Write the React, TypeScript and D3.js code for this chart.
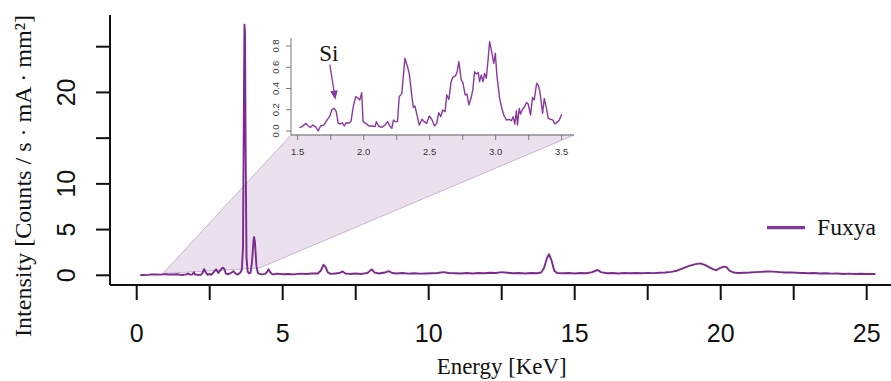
import React from "react";
import * as d3 from "d3";

// ---------- DATA ----------
const mainEnergy = [
  0.12, 0.2, 0.3, 0.4, 0.5, 0.6, 0.7, 0.8, 0.9, 1.0, 1.1, 1.2, 1.3, 1.4, 1.5, 1.6, 1.7, 1.76, 1.82, 1.9,
  1.96, 2.0, 2.1, 2.2, 2.26, 2.31, 2.36, 2.42, 2.5, 2.56, 2.62, 2.72, 2.8, 2.86, 2.95, 3.0, 3.05, 3.12, 3.2, 3.31,
  3.38, 3.45, 3.5, 3.55, 3.6, 3.64, 3.67, 3.69, 3.71, 3.73, 3.76, 3.8, 3.85, 3.9, 3.95, 4.0, 4.02, 4.05, 4.1, 4.15,
  4.2, 4.3, 4.4, 4.47, 4.52, 4.58, 4.65, 4.7, 4.8, 5.0, 5.2, 5.4, 5.6, 5.8, 6.0, 6.2, 6.3, 6.4, 6.47, 6.55,
  6.65, 6.8, 6.95, 7.05, 7.15, 7.3, 7.5, 7.7, 7.9, 8.05, 8.15, 8.3, 8.5, 8.63, 8.75, 8.9, 9.1, 9.3, 9.5, 9.7,
  9.9, 10.1, 10.3, 10.5, 10.7, 10.9, 11.1, 11.3, 11.5, 11.7, 11.9, 12.1, 12.3, 12.5, 12.7, 12.9, 13.1, 13.3, 13.5, 13.7,
  13.85, 13.95, 14.05, 14.12, 14.2, 14.3, 14.4, 14.6, 14.8, 15.0, 15.2, 15.4, 15.6, 15.78, 15.9, 16.1, 16.3, 16.5, 16.7, 16.9,
  17.1, 17.3, 17.5, 17.7, 17.9, 18.1, 18.3, 18.5, 18.7, 18.9, 19.1, 19.3, 19.45, 19.6, 19.75, 19.85, 19.95, 20.1, 20.2, 20.3,
  20.45, 20.6, 20.8, 21.0, 21.2, 21.4, 21.6, 21.8, 22.0, 22.2, 22.4, 22.6, 22.8, 23.0, 23.2, 23.4, 23.6, 23.8, 24.0, 24.2,
  24.4, 24.6, 24.8, 25.0, 25.3,
];
const mainIntensity = [
  0.02, 0.03, 0.02, 0.05, 0.1, 0.08, 0.1, 0.07, 0.1, 0.12, 0.08, 0.1, 0.09, 0.12, 0.05, 0.04, 0.1, 0.2, 0.07, 0.09,
  0.33, 0.08, 0.05, 0.06, 0.3, 0.68, 0.35, 0.06, 0.14, 0.06, 0.3, 0.65, 0.26, 0.55, 0.84, 0.72, 0.2, 0.1, 0.2, 0.45,
  0.2, 0.08, 0.15, 0.3, 0.6, 3.0, 18.0, 27.4, 26.5, 14.0, 2.0, 0.4, 0.2, 0.3, 1.5, 3.8, 4.2, 3.6, 1.0, 0.25,
  0.15, 0.1, 0.15, 0.4, 0.65, 0.3, 0.1, 0.12, 0.18, 0.12, 0.15, 0.1, 0.18, 0.14, 0.2, 0.2, 0.5, 1.15, 0.9, 0.3,
  0.15, 0.2, 0.25, 0.42, 0.2, 0.15, 0.2, 0.15, 0.25, 0.65, 0.3, 0.2, 0.3, 0.45, 0.25, 0.2, 0.25, 0.18, 0.22, 0.18,
  0.2, 0.22, 0.25, 0.35, 0.25, 0.22, 0.2, 0.25, 0.2, 0.25, 0.22, 0.28, 0.25, 0.35, 0.28, 0.22, 0.25, 0.2, 0.25, 0.22,
  0.3, 0.8, 1.9, 2.3, 1.7, 0.5, 0.25, 0.22, 0.25, 0.2, 0.25, 0.22, 0.35, 0.58, 0.35, 0.22, 0.25, 0.2, 0.25, 0.22,
  0.25, 0.22, 0.26, 0.24, 0.28, 0.3, 0.38, 0.5, 0.75, 1.0, 1.2, 1.3, 1.15, 0.9, 0.65, 0.55, 0.75, 0.95, 0.9, 0.5,
  0.3, 0.25, 0.28, 0.3, 0.35, 0.38, 0.42, 0.4, 0.35, 0.3, 0.32, 0.28, 0.25, 0.22, 0.25, 0.2, 0.22, 0.18, 0.2, 0.15,
  0.18, 0.15, 0.17, 0.14, 0.15,
];

const insetEnergy = [
  1.513, 1.533, 1.563, 1.579, 1.596, 1.614, 1.635, 1.655, 1.673, 1.698, 1.723, 1.741, 1.761, 1.777, 1.792, 1.807,
  1.825, 1.838, 1.853, 1.868, 1.888, 1.904, 1.921, 1.939, 1.959, 1.97, 1.985, 1.995, 2.015, 2.041, 2.066, 2.086,
  2.096, 2.112, 2.137, 2.162, 2.18, 2.198, 2.213, 2.226, 2.239, 2.256, 2.269, 2.289, 2.312, 2.332, 2.345, 2.365,
  2.376, 2.388, 2.401, 2.421, 2.442, 2.459, 2.477, 2.497, 2.518, 2.536, 2.553, 2.569, 2.584, 2.599, 2.617, 2.629,
  2.645, 2.662, 2.675, 2.695, 2.708, 2.721, 2.739, 2.751, 2.769, 2.782, 2.797, 2.815, 2.827, 2.84, 2.853, 2.868,
  2.878, 2.891, 2.904, 2.916, 2.929, 2.942, 2.954, 2.972, 2.985, 2.997, 3.01, 3.03, 3.043, 3.061, 3.081, 3.102,
  3.119, 3.132, 3.145, 3.157, 3.165, 3.178, 3.188, 3.203, 3.216, 3.234, 3.246, 3.264, 3.279, 3.292, 3.31, 3.322,
  3.335, 3.355, 3.368, 3.386, 3.398, 3.416, 3.431, 3.449, 3.47, 3.482, 3.5,
];
const insetIntensity = [
  0.031, 0.041, 0.072, 0.047, 0.034, 0.056, 0.041, 0.0, 0.047, 0.056, 0.104, 0.135, 0.204, 0.213, 0.182, 0.072,
  0.066, 0.078, 0.047, 0.078, 0.072, 0.091, 0.229, 0.323, 0.307, 0.292, 0.361, 0.088, 0.072, 0.047, 0.047, 0.041,
  0.088, 0.047, 0.034, 0.056, 0.088, 0.047, 0.025, 0.104, 0.088, 0.088, 0.323, 0.354, 0.684, 0.605, 0.542, 0.323,
  0.223, 0.235, 0.166, 0.056, 0.11, 0.088, 0.072, 0.141, 0.104, 0.047, 0.072, 0.172, 0.135, 0.198, 0.182, 0.339,
  0.298, 0.464, 0.505, 0.518, 0.558, 0.653, 0.48, 0.455, 0.339, 0.348, 0.245, 0.317, 0.392, 0.558, 0.536, 0.549,
  0.464, 0.527, 0.464, 0.542, 0.496, 0.668, 0.841, 0.731, 0.637, 0.731, 0.511, 0.307, 0.229, 0.151, 0.104, 0.11,
  0.097, 0.135, 0.066, 0.191, 0.056, 0.213, 0.16, 0.204, 0.223, 0.267, 0.254, 0.151, 0.317, 0.292, 0.449, 0.433,
  0.37, 0.166, 0.307, 0.204, 0.119, 0.11, 0.104, 0.066, 0.088, 0.104, 0.157,
];

const xTicks = [0, 2.5, 5, 7.5, 10, 12.5, 15, 17.5, 20, 22.5, 25];
const xTickLabels = ["0", "5", "10", "15", "20", "25"];
const yTicks = [0, 5, 10, 15, 20, 25];
const yTickLabels = ["0", "5", "10", "20"];
const insetXTicks = [1.5, 1.75, 2.0, 2.25, 2.5, 2.75, 3.0, 3.25, 3.5];
const insetXTickLabels = ["1.5", "2.0", "2.5", "3.0", "3.5"];
const insetYTicks = [0, 0.2, 0.4, 0.6, 0.8];
const insetYTickLabels = ["0.0", "0.2", "0.4", "0.6", "0.8"];
const zoomAnchors = [[0.9, 0.2], [4.2, 0.8]]; // where the zoom wedge meets the main spectrum
const siPeak = [1.77, 0.22];
const seriesName = "Fuxya";

// ---------- STYLE ----------
const PURPLE = "#7d2a8f";
const SANS = "'Liberation Sans', Arial, Helvetica, sans-serif";
const SERIF = "'Liberation Serif', 'Times New Roman', serif";

export default function App() {
  const W = 891, H = 381;
  const x = d3.scaleLinear().domain([0, 25]).range([136.7, 866.7]);
  const y = d3.scaleLinear().domain([0, 25]).range([275.3, 46.7]);
  const plot = { left: 110, right: 891, top: 15, bottom: 285 };

  const ix = d3.scaleLinear().domain([1.5, 3.5]).range([297.7, 561.7]);
  const iy = d3.scaleLinear().domain([0, 0.8]).range([131, 46]);
  const inset = { left: 291, right: 574, top: 38, bottom: 135 };

  const mainLine = d3
    .line<number>()
    .x((_, i) => x(mainEnergy[i]))
    .y((v) => y(v));
  const insetLine = d3
    .line<number>()
    .x((_, i) => ix(insetEnergy[i]))
    .y((v) => iy(v));

  const wedge = [
    [inset.left, inset.bottom],
    [inset.right, inset.bottom],
    [x(zoomAnchors[1][0]), y(zoomAnchors[1][1])],
    [x(zoomAnchors[0][0]), y(zoomAnchors[0][1])],
  ];

  const arrowEnd = [ix(siPeak[0]) + 2, iy(siPeak[1]) - 8];
  const arrowStart = [arrowEnd[0] - 5.5, arrowEnd[1] - 35];
  const ang = Math.atan2(arrowEnd[1] - arrowStart[1], arrowEnd[0] - arrowStart[0]);
  const hl = 9, hw = 3.8;
  const head = [
    [arrowEnd[0], arrowEnd[1]],
    [arrowEnd[0] - hl * Math.cos(ang) + hw * Math.sin(ang), arrowEnd[1] - hl * Math.sin(ang) - hw * Math.cos(ang)],
    [arrowEnd[0] - hl * Math.cos(ang) - hw * Math.sin(ang), arrowEnd[1] - hl * Math.sin(ang) + hw * Math.cos(ang)],
  ];

  return (
    <svg
      width={W}
      height={H}
      viewBox={`0 0 ${W} ${H}`}
      style={{ position: "absolute", left: 0, top: 0, background: "#fff" }}
    >
      <rect x={0} y={0} width={W} height={H} fill="#fff" />
      {/* zoom wedge */}
      <polygon
        points={wedge.map((p) => p.join(",")).join(" ")}
        fill="#ebe1ee"
        stroke="#c9b4d2"
        strokeWidth={1}
      />
      {/* main spectrum */}
      <path d={mainLine(mainIntensity) || ""} fill="none" stroke={PURPLE} strokeWidth={1.9} strokeLinejoin="round" />

      {/* main axes */}
      <line x1={plot.left} x2={plot.left} y1={plot.top} y2={plot.bottom} stroke="#111" strokeWidth={2} />
      <line x1={plot.left} x2={plot.right} y1={plot.bottom} y2={plot.bottom} stroke="#111" strokeWidth={2} />
      {xTicks.map((t) => (
        <line key={"xt" + t} x1={x(t)} x2={x(t)} y1={plot.bottom} y2={plot.bottom + 15} stroke="#111" strokeWidth={2} />
      ))}
      {xTickLabels.map((l) => (
        <text key={"xl" + l} x={x(+l)} y={342} textAnchor="middle" fontFamily={SANS} fontSize={25} fill="#111">
          {l}
        </text>
      ))}
      {yTicks.map((t) => (
        <line key={"yt" + t} x1={plot.left - 14} x2={plot.left} y1={y(t)} y2={y(t)} stroke="#111" strokeWidth={2} />
      ))}
      {yTickLabels.map((l) => (
        <text
          key={"yl" + l}
          transform={`translate(75,${y(+l)}) rotate(-90)`}
          textAnchor="middle"
          fontFamily={SANS}
          fontSize={25}
          fill="#111"
        >
          {l}
        </text>
      ))}
      <text
        x={x(12.5)}
        y={374}
        textAnchor="middle"
        fontFamily={SERIF}
        fontSize={23}
        fill="#111"
        textLength={130}
        lengthAdjust="spacingAndGlyphs"
      >
        Energy [KeV]
      </text>
      <text
        transform={`translate(31,176) rotate(-90)`}
        textAnchor="middle"
        fontFamily={SERIF}
        fontSize={23}
        fill="#111"
        textLength={322}
        lengthAdjust="spacingAndGlyphs"
      >
        Intensity [Counts / s · mA · mm²]
      </text>

      {/* legend */}
      <line x1={767} x2={805} y1={227.7} y2={227.7} stroke="#86359a" strokeWidth={3.2} />
      <text x={817} y={235} fontFamily={SERIF} fontSize={23} fill="#111" textLength={59} lengthAdjust="spacingAndGlyphs">
        {seriesName}
      </text>

      {/* inset */}
      <path d={insetLine(insetIntensity) || ""} fill="none" stroke="#8a38a0" strokeWidth={1.4} strokeLinejoin="round" />
      <line x1={inset.left} x2={inset.left} y1={inset.top} y2={inset.bottom} stroke="#777" strokeWidth={1} />
      <line x1={inset.left} x2={inset.right} y1={inset.bottom} y2={inset.bottom} stroke="#777" strokeWidth={1} />
      {insetXTicks.map((t) => (
        <line key={"ixt" + t} x1={ix(t)} x2={ix(t)} y1={inset.bottom} y2={inset.bottom + 5} stroke="#777" strokeWidth={1} />
      ))}
      {insetXTickLabels.map((l) => (
        <text key={"ixl" + l} x={ix(+l)} y={155} textAnchor="middle" fontFamily={SANS} fontSize={9.5} fill="#333">
          {l}
        </text>
      ))}
      {insetYTicks.map((t) => (
        <line key={"iyt" + t} x1={inset.left - 5} x2={inset.left} y1={iy(t)} y2={iy(t)} stroke="#777" strokeWidth={1} />
      ))}
      {insetYTickLabels.map((l) => (
        <text
          key={"iyl" + l}
          transform={`translate(279,${iy(+l)}) rotate(-90)`}
          textAnchor="middle"
          fontFamily={SANS}
          fontSize={9.5}
          fill="#333"
        >
          {l}
        </text>
      ))}
      {/* Si annotation */}
      <text x={arrowStart[0] - 1} y={60.7} textAnchor="middle" fontFamily={SERIF} fontSize={23} fill="#111">
        Si
      </text>
      <line x1={arrowStart[0]} y1={arrowStart[1]} x2={arrowEnd[0] - 6 * Math.cos(ang)} y2={arrowEnd[1] - 6 * Math.sin(ang)} stroke="#8a38a0" strokeWidth={1.3} />
      <polygon points={head.map((p) => p.join(",")).join(" ")} fill="#8a38a0" />
    </svg>
  );
}
